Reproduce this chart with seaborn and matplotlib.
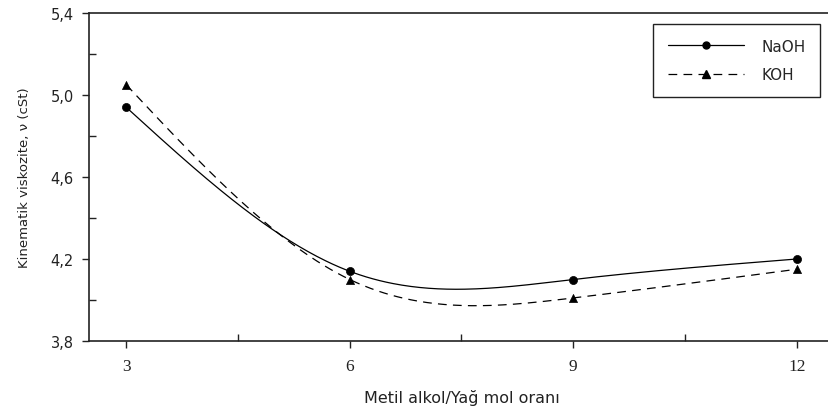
import numpy as np
import pandas as pd
import matplotlib
matplotlib.use("Agg")
import matplotlib.pyplot as plt
import seaborn as sns
from matplotlib.lines import Line2D

# ---- data ----
ratio = [3, 6, 9, 12]
naoh = [4.94, 4.14, 4.10, 4.20]
koh = [5.05, 4.10, 4.01, 4.15]
series_names = ["NaOH", "KOH"]
x_ticks = [3, 6, 9, 12]
x_ticklabels = ["3", "6", "9", "12"]
y_ticks = [3.8, 4.2, 4.6, 5.0, 5.4]
y_ticklabels = ["3,8", "4,2", "4,6", "5,0", "5,4"]
x_label = "Metil alkol/Yağ mol oranı"
y_label = "Kinematik viskozite, ν (cSt)"


def natural_spline(xs, ys, n=300):
    xs = np.asarray(xs, float)
    ys = np.asarray(ys, float)
    k = len(xs)
    h = np.diff(xs)
    A = np.zeros((k, k))
    b = np.zeros(k)
    A[0, 0] = A[-1, -1] = 1
    for i in range(1, k - 1):
        A[i, i - 1] = h[i - 1]
        A[i, i] = 2 * (h[i - 1] + h[i])
        A[i, i + 1] = h[i]
        b[i] = 6 * ((ys[i + 1] - ys[i]) / h[i] - (ys[i] - ys[i - 1]) / h[i - 1])
    M = np.linalg.solve(A, b)
    xf = np.linspace(xs[0], xs[-1], n)
    idx = np.clip(np.searchsorted(xs, xf) - 1, 0, k - 2)
    x0, x1 = xs[idx], xs[idx + 1]
    hh = x1 - x0
    a = x1 - xf
    c = xf - x0
    yf = (M[idx] * a ** 3 + M[idx + 1] * c ** 3) / (6 * hh) \
        + (ys[idx] / hh - M[idx] * hh / 6) * a \
        + (ys[idx + 1] / hh - M[idx + 1] * hh / 6) * c
    return xf, yf


sns.set_style("ticks")
plt.rcParams["font.family"] = ["DejaVu Sans"]

fig = plt.figure(figsize=(8.29, 4.14), dpi=100)
ax = fig.add_axes([89 / 829, 72 / 414, 745 / 829, 328 / 414])

styles = {"NaOH": dict(ls="-", marker="o"), "KOH": dict(ls=(0, (7, 5)), marker="^")}
for name, vals in zip(series_names, [naoh, koh]):
    xf, yf = natural_spline(ratio, vals)
    curve = pd.DataFrame({"x": xf, "y": yf})
    sns.lineplot(data=curve, x="x", y="y", ax=ax, color="black", lw=0.9,
                 linestyle=styles[name]["ls"], sort=False)
    pts = pd.DataFrame({"x": ratio, "y": vals})
    sns.scatterplot(data=pts, x="x", y="y", ax=ax, color="black",
                    marker=styles[name]["marker"], s=34, edgecolor="black",
                    linewidth=0.5, zorder=3)

ax.set_xlim(2.5, 12.5)
ax.set_ylim(3.8, 5.4)
ax.set_xticks(x_ticks)
ax.set_xticklabels(x_ticklabels, family="Liberation Serif", fontsize=12.5)
ax.set_yticks(y_ticks)
ax.set_yticklabels(y_ticklabels, fontsize=10.5)
ax.set_xticks([4.5, 7.5, 10.5], minor=True)
ax.set_yticks([4.0, 4.4, 4.8, 5.2], minor=True)
ax.tick_params(which="major", direction="out", length=5, width=1, color="#222",
               labelcolor="#222")
ax.tick_params(axis="x", which="major", pad=7)
ax.tick_params(axis="y", which="major", pad=6)
ax.tick_params(which="minor", direction="in", length=5, width=1, color="#222")

for s in ["left", "bottom", "top"]:
    ax.spines[s].set_visible(True)
    ax.spines[s].set_linewidth(1.2)
    ax.spines[s].set_color("#222")
ax.spines["right"].set_visible(False)

ax.set_xlabel(x_label, fontsize=11.5, color="#222", labelpad=11)
ax.set_ylabel(y_label, fontsize=9.5, color="#222", labelpad=14)

handles = [Line2D([], [], color="black", lw=0.9, ls="-", marker="o", markersize=5),
           Line2D([], [], color="black", lw=0.9, ls=(0, (7, 5)), marker="^", markersize=5.5)]
leg = ax.legend(handles, series_names, loc="upper right",
                bbox_to_anchor=(0.981, 0.966), borderaxespad=0, fancybox=False,
                edgecolor="#222", framealpha=1, fontsize=11, handlelength=5.0,
                handletextpad=1.1, borderpad=0.95, labelspacing=0.9)
leg.get_frame().set_linewidth(1.0)

fig.savefig("out.png", dpi=100)
